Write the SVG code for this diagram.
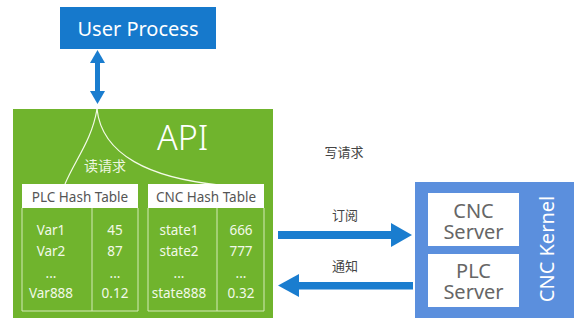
<svg xmlns="http://www.w3.org/2000/svg" width="576" height="320" viewBox="0 0 576 320">
<style>
.t{font-family:"Noto Sans","Open Sans","Noto Sans CJK SC",sans-serif}
.cjk{font-family:"Noto Sans CJK SC","Noto Sans",sans-serif}
.cell{font-size:13.5px;fill:#f2f9e8;text-anchor:middle}
.hdr{font-size:13.5px;fill:#555;text-anchor:middle}
.srv{font-size:20px;fill:#666;text-anchor:middle}
.grid{stroke:#d4eab8;stroke-width:1;fill:none}
.arr{fill:#1a7dcf}
.lbl{font-size:13px;fill:#444;text-anchor:middle}
</style>
<rect width="576" height="320" fill="#ffffff"/>
<g id="user-process">
<rect x="60" y="7" width="156" height="42" fill="#1679cc"/>
<text class="t" x="138" y="36" font-size="20" fill="#ffffff" text-anchor="middle">User Process</text>
</g>
<g id="api">
<rect x="13" y="109" width="260" height="209" fill="#70b42d"/>
<text class="t" x="157" y="150" font-size="34" fill="#ffffff" font-weight="300">API</text>
<path d="M97,109 C92,140 75,160 65,184" stroke="#f4fbe8" stroke-width="1.2" fill="none"/>
<path d="M97,109 C102,155 150,178 220,185" stroke="#f4fbe8" stroke-width="1.2" fill="none"/>
<text class="cjk" x="105" y="171" font-size="14" fill="#eef7e0" text-anchor="middle">读请求</text>
</g>
<g id="plc-hash-table">
<rect x="22" y="184" width="116" height="24" fill="#ffffff"/>
<text class="t hdr" x="80" y="202">PLC Hash Table</text>
<path class="grid" d="M22,208 V311 H138 V208 M92,208 V311"/>
<text class="t cell" x="51" y="235">Var1</text>
<text class="t cell" x="115" y="235">45</text>
<text class="t cell" x="51" y="256">Var2</text>
<text class="t cell" x="115" y="256">87</text>
<text class="t cell" x="51" y="278">...</text>
<text class="t cell" x="115" y="278">...</text>
<text class="t cell" x="51" y="298">Var888</text>
<text class="t cell" x="115" y="298">0.12</text>
</g>
<g id="cnc-hash-table">
<rect x="148" y="184" width="116" height="24" fill="#ffffff"/>
<text class="t hdr" x="206" y="202">CNC Hash Table</text>
<path class="grid" d="M148,208 V311 H264 V208 M217,208 V311"/>
<text class="t cell" x="179" y="235">state1</text>
<text class="t cell" x="241" y="235">666</text>
<text class="t cell" x="179" y="256">state2</text>
<text class="t cell" x="241" y="256">777</text>
<text class="t cell" x="179" y="278">...</text>
<text class="t cell" x="241" y="278">...</text>
<text class="t cell" x="179" y="298">state888</text>
<text class="t cell" x="241" y="298">0.32</text>
</g>
<g id="cnc-kernel">
<rect x="415" y="182" width="159" height="136" fill="#5b8fdd"/>
<text class="t" transform="translate(554,249) rotate(-90)" font-size="20" fill="#ffffff" text-anchor="middle">CNC Kernel</text>
</g>
<g id="cnc-server">
<rect x="428" y="193" width="91" height="53" fill="#ffffff"/>
<text class="t srv" x="473.5" y="218">CNC</text>
<text class="t srv" x="473.5" y="239">Server</text>
</g>
<g id="plc-server">
<rect x="428" y="254" width="91" height="53" fill="#ffffff"/>
<text class="t srv" x="473.5" y="278">PLC</text>
<text class="t srv" x="473.5" y="299">Server</text>
</g>
<text class="cjk lbl" x="344" y="157">写请求</text>
<g id="connectors">
<rect class="arr" x="95" y="60" width="5" height="34"/>
<polygon class="arr" points="97.5,50 90,63 105,63"/>
<polygon class="arr" points="97.5,104 90,91 105,91"/>
<rect class="arr" x="278" y="231" width="115" height="8"/>
<polygon class="arr" points="391,223 412,235 391,247"/>
<text class="cjk lbl" x="345" y="220">订阅</text>
<rect class="arr" x="297" y="282" width="116" height="7.5"/>
<polygon class="arr" points="278,285.5 299,274 299,297"/>
<text class="cjk lbl" x="345" y="271">通知</text>
</g>
</svg>
